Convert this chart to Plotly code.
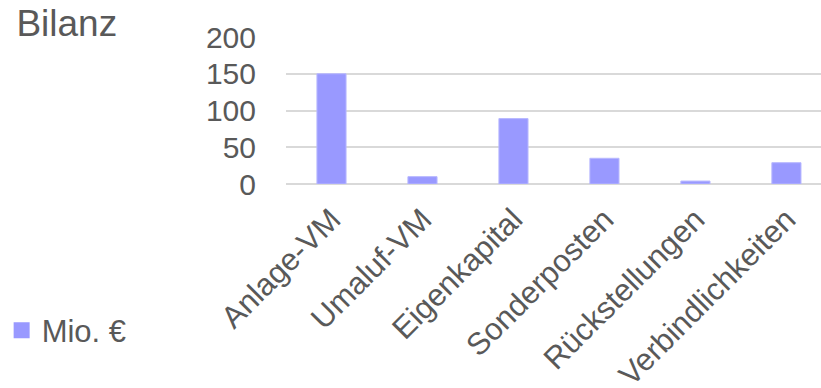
import plotly.graph_objects as go

categories = ["Anlage-VM", "Umaluf-VM", "Eigenkapital", "Sonderposten", "Rückstellungen", "Verbindlichkeiten"]
values = [150, 10, 89, 35, 4, 29]
series_name = "Mio. €"
y_ticks = [0, 50, 100, 150, 200]

BAR = "#9999FF"
TXT = "#595959"
GRID = "#D9D9D9"
FONT = "Liberation Sans, Arial, sans-serif"

fig = go.Figure()
fig.add_trace(go.Bar(
    x=categories, y=values, name=series_name, width=0.32,
    marker=dict(color=BAR, line=dict(color="#B8B8FF", width=1)),
    showlegend=False,
))
fig.add_trace(go.Scatter(
    x=[None], y=[None], mode="markers", name=series_name,
    marker=dict(symbol="square", size=16, color=BAR),
    showlegend=True,
))

fig.update_layout(
    width=821, height=388,
    margin=dict(l=286, r=0, t=37, b=204, autoexpand=False),
    paper_bgcolor="white", plot_bgcolor="white",
    font=dict(family=FONT, color=TXT, size=30),
    title=dict(text="Bilanz", font=dict(size=37, color=TXT, family=FONT),
               xref="container", x=0.02, xanchor="left",
               yref="container", y=0.94, yanchor="middle", pad=dict(l=0, t=0)),
    bargap=0.68,
    legend=dict(xref="container", yref="container", x=0.002, y=0.148,
                xanchor="left", yanchor="middle",
                font=dict(size=31, color=TXT, family=FONT),
                itemwidth=30, bgcolor="rgba(0,0,0,0)"),
    xaxis=dict(range=[-0.5, 5.38], tickangle=-45, showgrid=False,
               showline=False, ticks="", automargin=False,
               ticklabelstandoff=10,
               tickfont=dict(size=31, color=TXT, family=FONT)),
    yaxis=dict(range=[0, 200], tickvals=y_ticks, showgrid=True,
               gridcolor=GRID, gridwidth=1.5, zeroline=True,
               zerolinecolor=GRID, zerolinewidth=1.5, showline=False,
               ticks="", ticklabelstandoff=29, automargin=False,
               tickfont=dict(size=30, color=TXT, family=FONT)),
)

fig.write_html("out.html")
